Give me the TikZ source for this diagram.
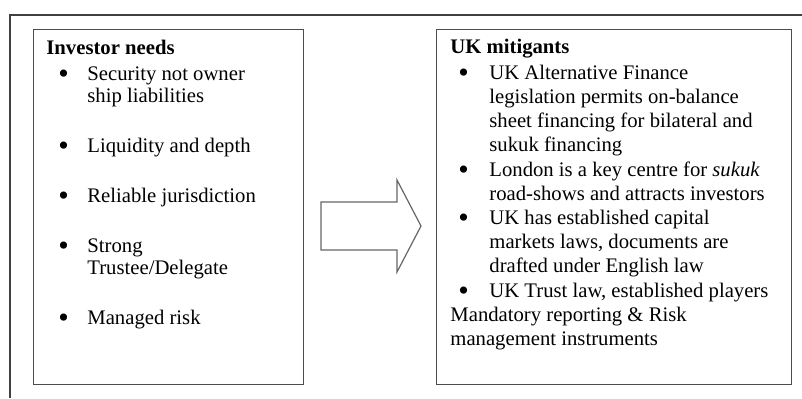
\documentclass[tikz,border=0pt]{standalone}
\usepackage{fontspec}
\setmainfont{Liberation Serif}
\usetikzlibrary{positioning}
\newcommand{\bulletcell}[1]{\hspace*{#1}\raisebox{-1.6pt}{\scalebox{1.45}{\textbullet}}}
\tikzset{
    panel/.style={
        rectangle,
        draw=black!70,
        line width=0.6pt,
        anchor=north west,
        minimum height=177.5pt,
        inner sep=0pt
    },
    listing/.style={
        anchor=base west,
        inner sep=0pt,
        align=left
    },
    blockarrow/.style={
        draw=black!60,
        line width=0.6pt,
        fill=white,
        line join=miter
    },
    frame/.style={
        draw=black!75,
        line width=0.6pt
    }
}

\begin{document}
\begin{tikzpicture}[x=1pt, y=1pt]
    \useasboundingbox (0,0) rectangle (401,199);

    % Outer frame (only top and left edges show)
    \draw [frame] (5,0) -- (5,191.5) -- (401,191.5);

    % Boxes
    \node (needsBox) [panel, minimum width=135pt] at (16.5,184.5) {};
    \node (mitigantsBox) [panel, minimum width=177.5pt] at (218,184.5) {};

    % Box texts
    \node (needsText) [listing, font=\fontsize{10.35}{11}\selectfont]
        at ([xshift=6.5pt, yshift=-12.5pt]needsBox.north west) {%
        \begin{tabular}[t]{@{}p{20.5pt}@{}l@{}}
            \multicolumn{2}{@{}l@{}}{\textbf{Investor needs}}\\[2pt]
            \bulletcell{6pt} & Security not owner\\
            & ship liabilities\\[14pt]
            \bulletcell{6pt} & Liquidity and depth\\[14pt]
            \bulletcell{6pt} & Reliable jurisdiction\\[14pt]
            \bulletcell{6pt} & Strong\\
            & Trustee/Delegate\\[14pt]
            \bulletcell{6pt} & Managed risk
        \end{tabular}};
    \node (mitigantsText) [listing, font=\fontsize{10.35}{12.1}\selectfont]
        at ([xshift=7pt, yshift=-12pt]mitigantsBox.north west) {%
        \begin{tabular}[t]{@{}p{19.5pt}@{}l@{}}
            \multicolumn{2}{@{}l@{}}{\textbf{UK mitigants}}\\[1pt]
            \bulletcell{4pt} & UK Alternative Finance\\
            & legislation permits on-balance\\
            & sheet financing for bilateral and\\
            & sukuk financing\\
            \bulletcell{4pt} & London is a key centre for \textit{sukuk}\\
            & road-shows and attracts investors\\
            \bulletcell{4pt} & UK has established capital\\
            & markets laws, documents are\\
            & drafted under English law\\
            \bulletcell{4pt} & UK Trust law, established players\\
            \multicolumn{2}{@{}l@{}}{Mandatory reporting \& Risk}\\
            \multicolumn{2}{@{}l@{}}{management instruments}
        \end{tabular}};

    % Block arrow between the boxes
    \coordinate (arrowTail) at (160.5,86);
    \draw [blockarrow] (arrowTail) ++(0,12) -- ++(38,0) -- ++(0,11) -- ++(12,-23)
        -- ++(-12,-23) -- ++(0,11) -- ++(-38,0) -- cycle;

\end{tikzpicture}
\end{document}
